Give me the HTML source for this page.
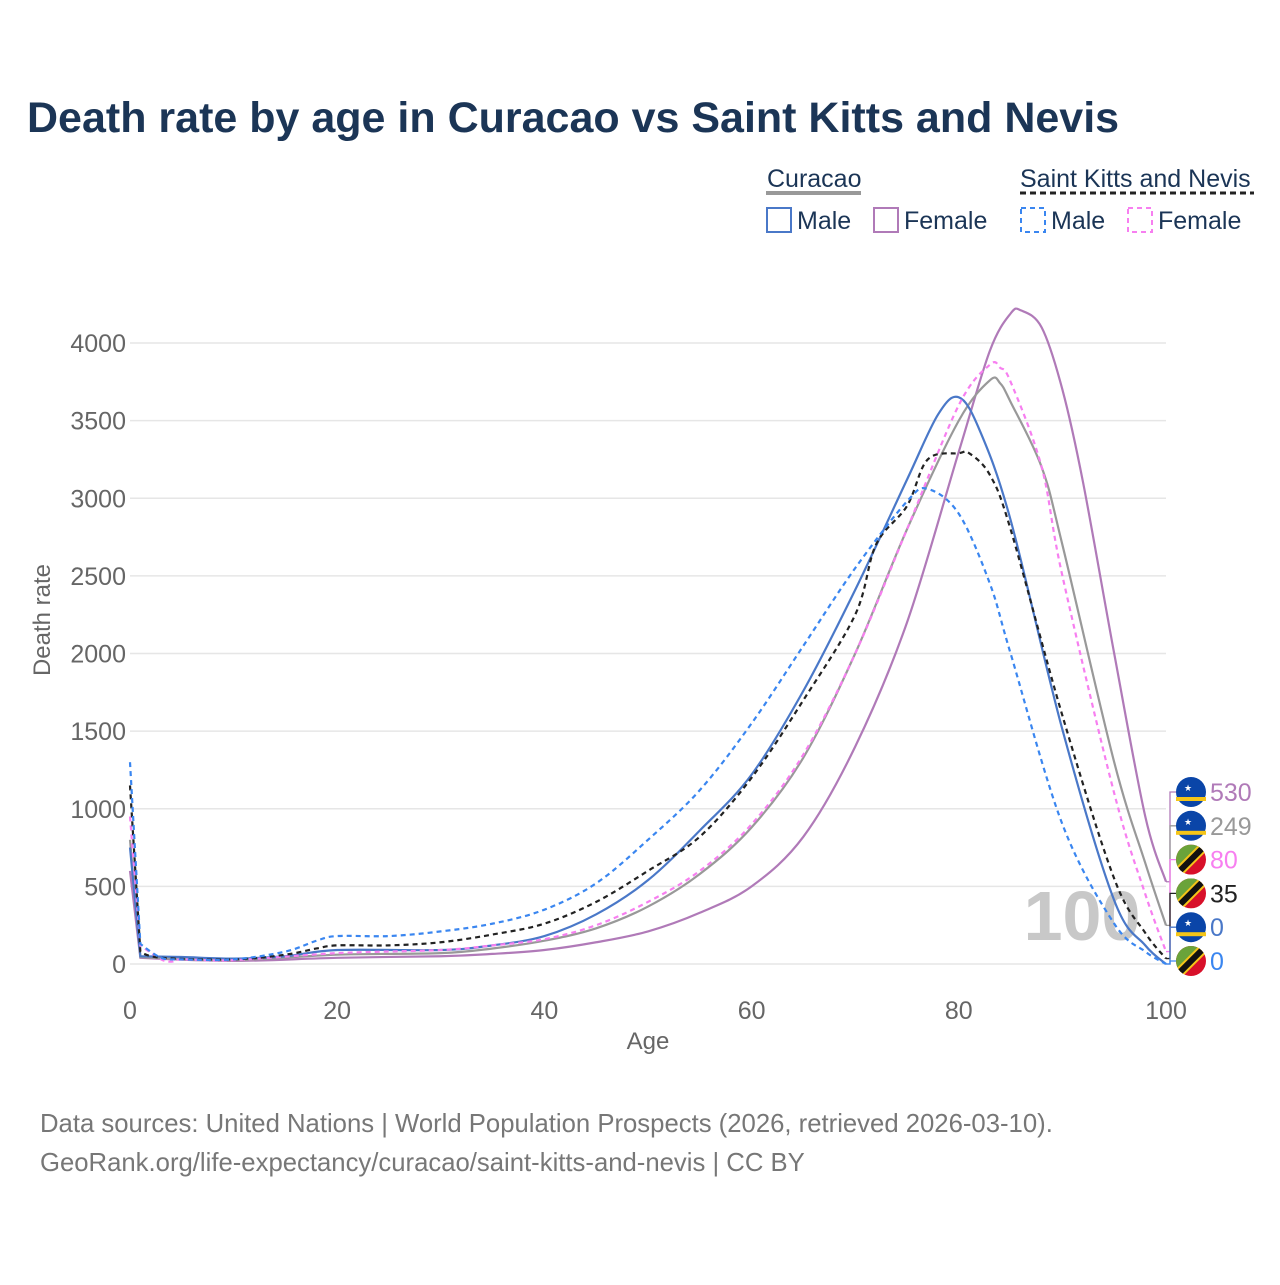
<!DOCTYPE html>
<html><head><meta charset="utf-8"><style>
body{margin:0;background:#fff;width:1280px;height:1280px;overflow:hidden;font-family:"Liberation Sans",sans-serif}
svg text{font-family:"Liberation Sans",sans-serif}
</style></head><body>
<svg id="c" width="1280" height="1280" xmlns="http://www.w3.org/2000/svg">
<text x="27" y="132" font-size="43" font-weight="bold" fill="#1b3556">Death rate by age in Curacao vs Saint Kitts and Nevis</text>
<g>
<text x="767" y="187" font-size="25" fill="#1b3556">Curacao</text>
<line x1="766" y1="193" x2="861" y2="193" stroke="#999" stroke-width="4"/>
<rect x="767" y="208" width="24" height="24" fill="none" stroke="#4a78c8" stroke-width="2"/>
<text x="797" y="229" font-size="25" fill="#1b3556">Male</text>
<rect x="874" y="208" width="24" height="24" fill="none" stroke="#b07ab8" stroke-width="2"/>
<text x="904" y="229" font-size="25" fill="#1b3556">Female</text>
<text x="1020" y="187" font-size="25" fill="#1b3556">Saint Kitts and Nevis</text>
<line x1="1020" y1="193" x2="1254" y2="193" stroke="#222" stroke-width="3" stroke-dasharray="6,4"/>
<rect x="1021" y="208" width="24" height="24" fill="none" stroke="#3a86f0" stroke-width="2" stroke-dasharray="5,4"/>
<text x="1051" y="229" font-size="25" fill="#1b3556">Male</text>
<rect x="1128" y="208" width="24" height="24" fill="none" stroke="#f77ff0" stroke-width="2" stroke-dasharray="5,4"/>
<text x="1158" y="229" font-size="25" fill="#1b3556">Female</text>
</g>
<g id="grid"></g>
<text x="1082" y="940" font-size="70" font-weight="bold" fill="#c8c8c8" text-anchor="middle">100</text>
<g id="lines"></g>
<g id="ends"></g>
<text x="648" y="1049" font-size="24" fill="#666" text-anchor="middle">Age</text>
<text transform="translate(50,620) rotate(-90)" font-size="24" fill="#666" text-anchor="middle">Death rate</text>
<text x="40" y="1132" font-size="25.7" fill="#777">Data sources: United Nations | World Population Prospects (2026, retrieved 2026-03-10).</text>
<text x="40" y="1171" font-size="25.7" fill="#777">GeoRank.org/life-expectancy/curacao/saint-kitts-and-nevis | CC BY</text>
</svg>
<script>
const yTicks=[0,500,1000,1500,2000,2500,3000,3500,4000];
const xTicks=[0,20,40,60,80,100];
const cmAges=[0,1,5,10,15,20,30,35,40,45,50,55,60,65,70,75,78,80,82,85,90,95,98,100];
const cmVals=[750,50,45,35,50,90,90,120,180,320,540,860,1220,1760,2410,3120,3540,3650,3440,2860,1510,410,120,0];
const cfAges=[0,1,10,20,30,35,40,45,50,55,60,65,70,75,80,83,85,86,88,90,92,95,98,100];
const cfVals=[600,40,20,40,50,65,90,140,210,330,500,820,1400,2200,3300,3950,4190,4210,4100,3700,3100,2000,950,530];
const cgAges=[0,1,10,20,30,35,40,45,50,55,60,65,70,75,80,83,84,85,88,90,95,98,100];
const cgVals=[800,45,25,60,70,100,150,230,370,580,880,1330,2000,2800,3500,3760,3740,3620,3200,2700,1300,650,249];
const smAges=[0,1,3,5,10,15,18,20,25,30,35,40,45,50,55,60,65,70,75,77,80,83,85,90,95,98,100];
const smVals=[1300,130,40,30,30,80,150,180,180,210,260,350,520,800,1120,1550,2050,2550,2980,3060,2900,2450,2000,900,260,80,0];
const sfAges=[0,1,3,4,5,10,20,30,35,40,45,50,55,60,65,70,75,80,83,84,85,88,90,95,98,100];
const sfVals=[950,120,30,15,30,25,70,90,120,160,250,400,600,900,1350,2000,2800,3600,3860,3840,3750,3200,2500,1100,450,80];
const sbAges=[0,1,3,10,15,18,20,25,30,35,40,45,50,55,60,65,70,72,75,77,80,81,83,85,90,95,98,100];
const sbVals=[1150,80,40,30,60,100,120,120,140,190,260,400,600,820,1200,1700,2250,2700,2950,3250,3290,3290,3150,2800,1600,550,200,35];
const endLabels=["530","249","80","35","0","0"];
const NS="http://www.w3.org/2000/svg";
const X=a=>130+a*10.36, Y=v=>964-v*0.15525;
function mk(t,at,p){const e=document.createElementNS(NS,t);for(const k in at)e.setAttribute(k,at[k]);(p||document.getElementById('c')).appendChild(e);return e;}
const g=document.getElementById('grid');
yTicks.forEach(v=>{const l=mk('line',{x1:130,x2:1166,y1:Y(v),y2:Y(v),stroke:'#e6e6e6','stroke-width':1.5},g);


const t=mk('text',{x:126,y:Y(v)+9,'font-size':25,fill:'#666','text-anchor':'end'},g);t.textContent=v;

});
xTicks.forEach(a=>{const t=mk('text',{x:X(a),y:1019,'font-size':25,fill:'#666','text-anchor':'middle'},g);t.textContent=a;

});
function path(ages,vals){const p=ages.map((a,i)=>[X(a),Y(vals[i])]);let d='M'+p[0][0]+','+p[0][1];
for(let i=0;i<p.length-1;i++){const p0=p[Math.max(i-1,0)],p1=p[i],p2=p[i+1],p3=p[Math.min(i+2,p.length-1)];
const k1=i<2?0:1/6,k2=i<1?0:1/6;
const t1=[(p2[0]-p0[0])*k1,(p2[1]-p0[1])*k1],t2=[(p3[0]-p1[0])*k2,(p3[1]-p1[1])*k2];
const c1=[p1[0]+t1[0],p1[1]+t1[1]],c2=[p2[0]-t2[0],p2[1]-t2[1]];
d+=' C'+c1+' '+c2+' '+p2;}return d;}
const L=document.getElementById('lines');
const series=[[cfAges,cfVals,'#b07ab8',null,'curacao-female-line'],[cgAges,cgVals,'#999',null,'curacao-total-line'],[cmAges,cmVals,'#4a78c8',null,'curacao-male-line'],
[sfAges,sfVals,'#f77ff0','5,4','skn-female-line'],[sbAges,sbVals,'#222','5,4','skn-total-line'],[smAges,smVals,'#3a86f0','5,4','skn-male-line']];
series.forEach(s=>{const e=mk('path',{d:path(s[0],s[1]),fill:'none',stroke:s[2],'stroke-width':2.2},L);if(s[3])e.setAttribute('stroke-dasharray',s[3]);

});
const E=document.getElementById('ends');
const ends=[[cfVals,'#b07ab8','c'],[cgVals,'#999','c'],[sfVals,'#f77ff0','s'],[sbVals,'#222','s'],[cmVals,'#4a78c8','c'],[smVals,'#3a86f0','s']];
ends.forEach((s,i)=>{const ly=792+i*33.8,vy=Y(s[0][s[0].length-1]);
mk('path',{d:`M1166,${vy} L1170,${vy} L1170,${ly} L1176,${ly}`,fill:'none',stroke:s[1],'stroke-width':1.3},E);
const cx=1191;
if(s[2]=='c'){mk('circle',{cx,cy:ly,r:15,fill:'#0a45a8'},E);mk('rect',{x:cx-15,y:ly+5,width:30,height:4,fill:'#f5c518'},E);mk('text',{x:cx-7,y:ly-1,'font-size':9,fill:'#fff'},E).textContent='★';}
else{const cp=mk('clipPath',{id:'cl'+i},E);mk('circle',{cx,cy:ly,r:15},cp);const gg=mk('g',{'clip-path':`url(#cl${i})`},E);
mk('rect',{x:cx-15,y:ly-15,width:30,height:30,fill:'#d8102a'},gg);mk('polygon',{points:`${cx-15},${ly-15} ${cx+15},${ly-15} ${cx-15},${ly+15}`,fill:'#6aa33a'},gg);
mk('line',{x1:cx-15,y1:ly+15,x2:cx+15,y2:ly-15,stroke:'#f5c518','stroke-width':10},gg);mk('line',{x1:cx-15,y1:ly+15,x2:cx+15,y2:ly-15,stroke:'#111','stroke-width':6},gg);}
const t=mk('text',{x:1210,y:ly+9,'font-size':25,fill:s[1]},E);t.textContent=endLabels[i];

});
</script>
</body></html>
